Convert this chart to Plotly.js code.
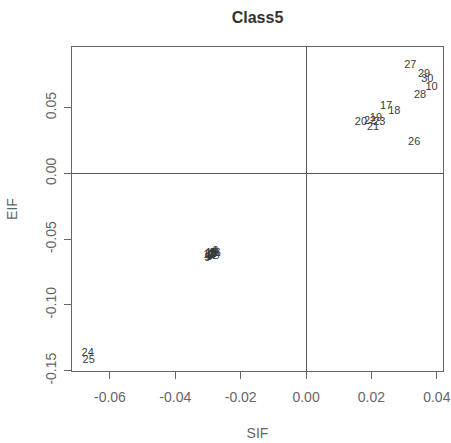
<!DOCTYPE html>
<html>
<head>
<meta charset="utf-8">
<script src="https://cdn.plot.ly/plotly-3.0.1.min.js"></script>
<style>html,body{margin:0;padding:0;background:#fff;}#chart{width:451px;height:443px;}</style>
</head>
<body>
<div id="chart"></div>
<script>
const labels = ["1","2","3","4","5","6","7","8","9","11","12","13","14","15","16",
                "10","17","18","19","20","21","22","23","26","27","28","29","30",
                "24","25"];
const sif = [-0.0298,-0.0290,-0.0285,-0.0280,-0.0302,-0.0294,-0.0288,-0.0283,-0.0277,-0.0292,-0.0286,-0.0296,-0.0281,-0.0289,-0.0279,
             0.0384,0.0245,0.0270,0.0214,0.0168,0.0205,0.0196,0.0224,0.0331,0.0319,0.0349,0.0361,0.0371,
             -0.0668,-0.0665];
const eif = [-0.0640,-0.0625,-0.0615,-0.0602,-0.0648,-0.0632,-0.0620,-0.0608,-0.0595,-0.0612,-0.0630,-0.0622,-0.0618,-0.0605,-0.0610,
             0.0659,0.0508,0.0470,0.0417,0.0386,0.0348,0.0394,0.0386,0.0235,0.0826,0.0598,0.0758,0.0720,
             -0.1364,-0.1424];
const xTicks = [-0.06,-0.04,-0.02,0.00,0.02,0.04];
const xTickText = ["-0.06","-0.04","-0.02","0.00","0.02","0.04"];
const yTicks = [0.05,0.00,-0.05,-0.10,-0.15];
const yTickText = ["0.05","0.00","-0.05","-0.10","-0.15"];

const trace = {
  x: sif, y: eif, text: labels, mode: "text", type: "scatter",
  textposition: "middle center",
  textfont: {family: "Liberation Sans, Arial, sans-serif", size: 11, color: "#3a3a3a"},
  hoverinfo: "text", showlegend: false
};
const fam = "Liberation Sans, Arial, sans-serif";
const tickFont = {family: fam, size: 14, color: "#666"};
const titleFont = {family: fam, size: 14, color: "#666"};
const layout = {
  width: 451, height: 443,
  margin: {l: 72, r: 8, t: 47, b: 72},
  paper_bgcolor: "#fff", plot_bgcolor: "#fff",
  title: {text: "<b>Class5</b>", x: 0.571, xanchor: "center", yref: "container", y: 0.9616, yanchor: "middle",
          font: {family: fam, size: 16, color: "#333"}},
  xaxis: {
    range: [-0.0716, 0.0419], tickvals: xTicks, ticktext: xTickText,
    ticks: "outside", ticklen: 7, tickcolor: "#666", tickfont: tickFont, ticklabelstandoff: 6,
    showgrid: false, zeroline: true, zerolinecolor: "#555", zerolinewidth: 1,
    showline: true, mirror: true, linecolor: "#666", linewidth: 1,
    title: {text: "SIF", font: titleFont, standoff: 24}
  },
  yaxis: {
    range: [-0.1502, 0.0962], tickvals: yTicks, ticktext: yTickText, tickangle: -90,
    ticks: "outside", ticklen: 7, tickcolor: "#666", tickfont: tickFont, ticklabelstandoff: 2,
    showgrid: false, zeroline: true, zerolinecolor: "#555", zerolinewidth: 1,
    showline: true, mirror: true, linecolor: "#666", linewidth: 1,
    title: {text: "EIF", font: titleFont, standoff: 22}
  }
};
Plotly.newPlot("chart", [trace], layout, {staticPlot: true, displayModeBar: false});
</script>
</body>
</html>
